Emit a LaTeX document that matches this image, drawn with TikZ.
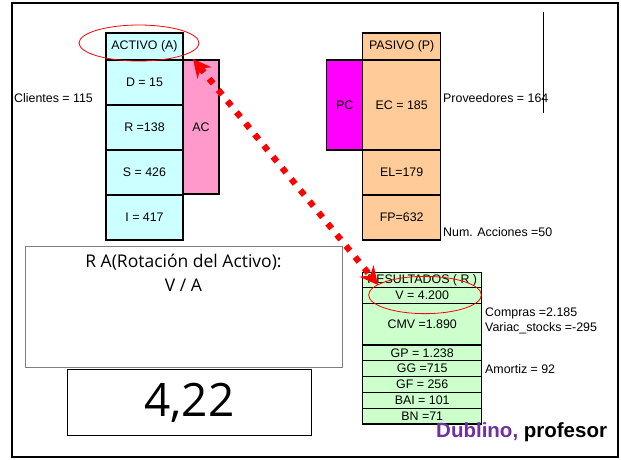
\documentclass[tikz,border=0pt]{standalone}
\usepackage{fontspec}
\setmainfont{Liberation Sans}
\newfontfamily\handfont{Open Sans}
\usetikzlibrary{shapes.geometric, arrows.meta}

\definecolor{activo}{HTML}{CCFFFF}
\definecolor{circulante}{HTML}{FF99CC}
\definecolor{pasivo}{HTML}{FFCC99}
\definecolor{pcorr}{HTML}{FF00FF}
\definecolor{result}{HTML}{CCFFCC}
\definecolor{dublino}{HTML}{7030A0}

\begin{document}
\begin{tikzpicture}[x=1pt, y=-1pt, font=\fontsize{12.4}{14}\selectfont,
        cell/.style 2 args={draw, line width=1.4pt, inner sep=0pt, minimum width=#1pt, minimum height=#2pt},
        note/.style={anchor=west, inner sep=0pt},
        ring/.style={draw=red, ellipse, line width=0.8pt, inner sep=0pt}]
        \useasboundingbox (0,0) rectangle (621,459);
        % Frame
        \draw[line width=2pt] (12,3) rectangle (618,457);

        % Activo
        \node[cell={77}{27}, fill=activo] (hdrA) at (144.5,46.5) {ACTIVO (A)};
        \node[cell={77}{45}, fill=activo] (D) at (144.5,82.5) {D = 15};
        \node[cell={77}{45}, fill=activo] (R) at (144.5,127.5) {R =138};
        \node[cell={77}{45}, fill=activo] (S) at (144.5,172.5) {S = 426};
        \node[cell={77}{45}, fill=activo] (I) at (144.5,217.5) {I = 417};
        \node[cell={36}{134}, fill=circulante] (AC) at (201,127) {AC};
        \node[note] (clientes) at (14,98) {Clientes = 115};

        % Pasivo
        \node[cell={78}{27}, fill=pasivo] (hdrP) at (401.7,46.5) {PASIVO (P)};
        \node[cell={78}{90}, fill=pasivo] (EC) at (401.7,105) {EC = 185};
        \node[cell={78}{45}, fill=pasivo] (EL) at (401.7,172.5) {EL=179};
        \node[cell={78}{45}, fill=pasivo] (FP) at (401.7,217.5) {FP=632};
        \node[cell={36}{90}, fill=pcorr] (PC) at (344.7,105) {PC};
        \node[note] (prov) at (443,98) {Proveedores = 164};
        \draw[line width=0.8pt] (543.3,12) -- (543.3,113);
        \node[note] (acciones) at (443,232) {Num. Acciones =50};

        % Resultados
        \node[cell={119}{15}, fill=result] (hdrR) at (422.2,279.8) {RESULTADOS ( R )};
        \node[cell={119}{16}, fill=result] (V) at (422.2,295.3) {V = 4.200};
        \node[cell={119}{41.7}, fill=result] (CMV) at (422.2,324.2) {CMV =1.890};
        \node[cell={119}{15.7}, fill=result] (GP) at (422.2,352.8) {GP = 1.238};
        \node[cell={119}{16}, fill=result] (GG) at (422.2,368.7) {GG =715};
        \node[cell={119}{15.6}, fill=result] (GF) at (422.2,384.5) {GF = 256};
        \node[cell={119}{16}, fill=result] (BAI) at (422.2,400.3) {BAI = 101};
        \node[cell={119}{15.7}, fill=result] (BN) at (422.2,416.2) {BN =71};
        \node[note] (compras) at (485,313) {Compras =2.185};
        \node[note] (variac) at (485,328) {Variac\_stocks =-295};
        \node[note] (amortiz) at (485,369) {Amortiz = 92};

        % Ratio
        \node[draw=gray, line width=1pt, minimum width=317.7pt, minimum height=121pt] (ra) at (183.85,307.2) {};
        \node[font=\handfont\fontsize{17.5}{24}\selectfont, align=center, anchor=north] (ratxt) at (183.5,251) {R A(Rotación del Activo):\\V / A};
        \node[draw, line width=1pt, minimum width=244.4pt, minimum height=66.4pt, font=\handfont\fontsize{46}{50}\selectfont] (valor) at (189.5,402.5) {4,22};

        % Highlights
        \node[ring, minimum width=120pt, minimum height=36pt] (ringA) at (139,43) {};
        \node[ring, minimum width=112.7pt, minimum height=37.3pt] (ringV) at (425,295) {};
        \coordinate (tipA) at (193,59);
        \coordinate (tipR) at (378,285);
        \draw[red, line width=6.2pt, dash pattern=on 6.2pt off 8.2pt,
              {Stealth[length=18pt,width=18pt]}-{Stealth[length=18pt,width=18pt]}] (tipA) -- (tipR);

        % Signature
        \node[note, font=\bfseries\fontsize{20.5}{24}\selectfont] (firma) at (436,432) {\textcolor{dublino}{Dublino,} profesor};
    \end{tikzpicture}
\end{document}
